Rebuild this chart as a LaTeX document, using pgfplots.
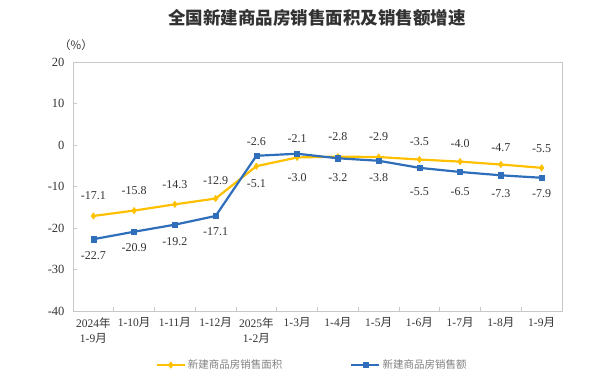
\documentclass[border=0pt]{standalone}
\usepackage{fontspec}
\setmainfont{Liberation Serif}
\newfontfamily\cjk{Noto Sans CJK SC}
\usepackage{pgfplots}
\usepackage{pgfplotstable}
\pgfplotsset{compat=1.18}
\definecolor{cyel}{RGB}{255,192,0}
\definecolor{cblu}{RGB}{47,110,186}
\definecolor{ctxt}{RGB}{50,50,50}
\definecolor{cframe}{RGB}{200,200,200}

\pgfplotstableread{
x y lbl dy
0 -17.1 -17.1 20
1 -15.8 -15.8 20
2 -14.3 -14.3 20
3 -12.9 -12.9 18
4 -5.1 -5.1 -17
5 -3.0 -3.0 -20
6 -2.8 -2.8 20
7 -2.9 -2.9 20
8 -3.5 -3.5 18
9 -4.0 -4.0 18
10 -4.7 -4.7 17
11 -5.5 -5.5 19
}\area
\pgfplotstableread{
x y lbl dy
0 -22.7 -22.7 -16
1 -20.9 -20.9 -16
2 -19.2 -19.2 -17
3 -17.1 -17.1 -16
4 -2.6 -2.6 14
5 -2.1 -2.1 15
6 -3.2 -3.2 -19
7 -3.8 -3.8 -17
8 -5.5 -5.5 -24
9 -6.5 -6.5 -20
10 -7.3 -7.3 -18
11 -7.9 -7.9 -16
}\sales

\begin{document}
\begin{tikzpicture}
\path[use as bounding box] (0pt,0pt) rectangle (601pt,391pt);
\node[font=\cjk\bfseries\fontsize{17.5}{20}\selectfont, text=ctxt] at (317pt,373pt) {全国新建商品房销售面积及销售额增速};
\node[font=\cjk\fontsize{11.5}{13}\selectfont, text=ctxt] at (76pt,346pt) {（\%）};
\begin{axis}[
  at={(73pt,80pt)}, anchor=south west,
  scale only axis, width=489pt, height=249pt,
  xmin=-0.5, xmax=11.5, ymin=-40, ymax=20,
  axis line style={draw=cframe, line width=0.8pt},
  ytick={-40,-30,-20,-10,0,10,20},
  ytick pos=left, tick align=inside,
  major tick length=4pt, minor tick length=4pt,
  tick style={draw=cframe, line width=0.6pt},
  xtick={0,...,11},
  x tick style={draw=none},
  minor xtick={-0.5,0.5,...,11.5},
  minor x tick style={draw=cframe, line width=0.6pt},
  xtick pos=bottom,
  xticklabels={{2024{\cjk 年}\\1-9{\cjk 月}},{1-10{\cjk 月}},{1-11{\cjk 月}},{1-12{\cjk 月}},{2025{\cjk 年}\\1-2{\cjk 月}},{1-3{\cjk 月}},{1-4{\cjk 月}},{1-5{\cjk 月}},{1-6{\cjk 月}},{1-7{\cjk 月}},{1-8{\cjk 月}},{1-9{\cjk 月}}},
  xticklabel style={align=center, font=\fontsize{11.5}{15}\selectfont, text=ctxt, yshift=-3pt},
  yticklabel style={font=\fontsize{12.5}{14}\selectfont, text=ctxt, xshift=-5pt},
  /pgf/number format/assume math mode=true,
  legend columns=2,
  legend style={at={(0.489,-0.217)}, anchor=center, draw=none, fill=none,
    font=\cjk\fontsize{10.5}{12}\selectfont, text=gray,
    /tikz/every even column/.append style={column sep=66pt}},
  legend image code/.code={\draw[mark repeat=2,mark phase=2,#1] plot coordinates {(0pt,0pt) (14pt,0pt) (28pt,0pt)};},
  point meta=explicit symbolic,
  nodes near coords,
  visualization depends on={\thisrow{dy} \as \dy},
  every node near coord/.append style={anchor=center, yshift=\dy pt, font=\fontsize{12}{14}\selectfont, text=ctxt},
]
\addplot[cyel, line width=2.2pt, mark=diamond*, mark size=3.2pt, mark options={fill=cyel, draw=cyel, line width=0.5pt}]
  table[x=x, y=y, meta=lbl] {\area};
\addlegendentry{新建商品房销售面积}
\addplot[cblu, line width=2.2pt, mark=square*, mark size=2.6pt, mark options={fill=cblu, draw=cblu, line width=0.5pt}]
  table[x=x, y=y, meta=lbl] {\sales};
\addlegendentry{新建商品房销售额}
\end{axis}
\end{tikzpicture}
\end{document}
